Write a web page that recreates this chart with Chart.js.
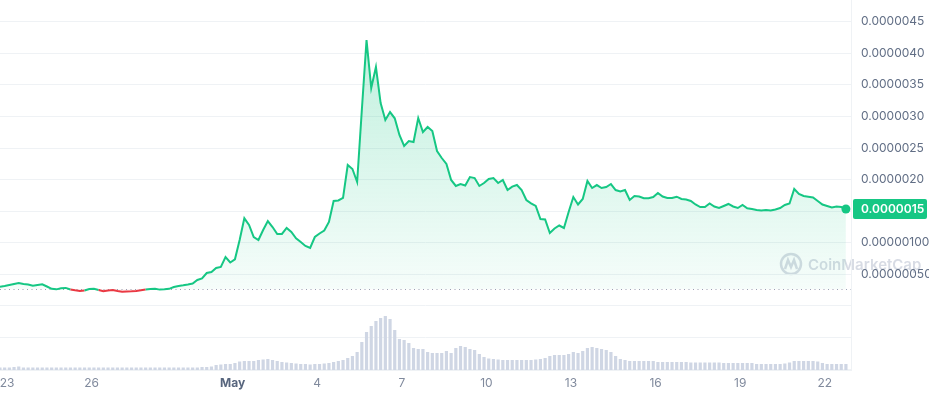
<!DOCTYPE html>
<html>
<head>
<meta charset="utf-8">
<script src="https://cdn.jsdelivr.net/npm/chart.js@4.4.1/dist/chart.umd.min.js"></script>
<style>
  html, body { margin: 0; padding: 0; background: #fff; }
  canvas { display: block; }
</style>
</head>
<body>
<canvas id="priceChart" width="929" height="396"></canvas>
<script>
// price in millionths of a dollar, one reading every 4 hours from Apr 22 18:00
const prices = [
  0.304, 0.315, 0.331, 0.347, 0.363, 0.347, 0.339, 0.320, 0.331, 0.342,
  0.307, 0.270, 0.262, 0.281, 0.285, 0.260, 0.247, 0.236, 0.244, 0.268,
  0.272, 0.252, 0.231, 0.244, 0.252, 0.236, 0.225, 0.228, 0.231, 0.236,
  0.247, 0.260, 0.266, 0.272, 0.258, 0.263, 0.270, 0.299, 0.315, 0.326,
  0.339, 0.355, 0.410, 0.434, 0.521, 0.537, 0.600, 0.616, 0.774, 0.687,
  0.738, 1.044, 1.387, 1.281, 1.091, 1.044, 1.202, 1.344, 1.249, 1.139,
  1.139, 1.234, 1.170, 1.070, 1.012, 0.949, 0.917, 1.091, 1.146, 1.194,
  1.329, 1.661, 1.669, 1.709, 2.231, 2.168, 1.962, 3.102, 4.210, 3.450,
  3.783, 3.212, 2.944, 3.070, 2.971, 2.706, 2.532, 2.611, 2.595, 2.975,
  2.754, 2.833, 2.770, 2.453, 2.342, 2.247, 1.994, 1.899, 1.930, 1.907,
  2.041, 2.025, 1.899, 1.946, 2.010, 2.025, 1.946, 1.994, 1.835, 1.888,
  1.914, 1.835, 1.677, 1.625, 1.582, 1.376, 1.368, 1.154, 1.226, 1.273,
  1.234, 1.487, 1.724, 1.606, 1.693, 1.978, 1.867, 1.914, 1.867, 1.883,
  1.930, 1.835, 1.812, 1.835, 1.677, 1.740, 1.732, 1.704, 1.704, 1.724,
  1.788, 1.732, 1.709, 1.709, 1.729, 1.693, 1.685, 1.661, 1.606, 1.566,
  1.566, 1.622, 1.574, 1.550, 1.582, 1.614, 1.574, 1.550, 1.598, 1.546,
  1.534, 1.519, 1.511, 1.519, 1.511, 1.527, 1.550, 1.598, 1.622, 1.851,
  1.772, 1.740, 1.729, 1.717, 1.661, 1.606, 1.582, 1.558, 1.574, 1.566,
  1.534
]

// traded volume, same 4 hour steps (relative units)
const volumes = [
  2.5, 2.5, 2.5, 3, 3.5, 2.5, 2.5, 2.5, 2.5, 2.5,
  2.5, 2.5, 2.5, 2.5, 2.5, 2.5, 2.5, 2.5, 2.5, 2.5,
  2.5, 2.5, 2.5, 2.5, 2.5, 2.5, 2.5, 2.5, 2.5, 2.5,
  2.5, 2.5, 2.5, 2.5, 2.5, 2.5, 2.5, 2.5, 2.5, 2.5,
  2.5, 2.5, 2.5, 3, 3, 3.5, 5, 5.5, 6, 6,
  7, 8.5, 9, 9, 9, 10, 10.5, 11, 10, 9,
  8, 7.5, 7, 6.5, 6, 6, 5.5, 6, 6, 6.5,
  7, 8, 9, 10, 12, 14, 18, 28, 38, 44,
  49, 52, 54, 51, 40, 31, 30, 27, 22, 21,
  21, 18, 17, 17, 17, 19, 17, 22, 24, 23,
  21, 20, 16, 13, 11.5, 11, 10.5, 10, 10, 10,
  10, 10, 10, 10, 10.5, 11, 12, 14, 15, 15,
  15, 16, 18, 17, 19, 22, 23, 22, 21, 20,
  18, 14, 11, 10, 9, 9, 9, 9, 9, 9,
  8, 8, 8, 8, 8, 8, 8, 7.5, 7.5, 7.5,
  7.5, 7.5, 7.5, 7.5, 7, 7, 7, 7, 7, 7,
  7, 6, 6, 6, 6, 6, 6, 6.5, 7.5, 9,
  9, 9, 9, 9, 8.5, 7, 6, 6, 6, 6,
  6
]

const openPrice = 0.263
const startDay = -0.25 // days after Apr 23 00:00
const stepDay = 1 / 6

const xTickDays = [0, 3, 8, 11, 14, 17, 20, 23, 26, 29]
const xTickLabels = ['23', '26', 'May', '4', '7', '10', '13', '16', '19', '22']

const yTickValues = [-1, -0.5, 0, 0.5, 1, 1.5, 2, 2.5, 3, 3.5, 4, 4.5]
const yTickLabels = ['', '', '', '0.000000500', '0.000001000', '0.0000015', '0.0000020',
  '0.0000025', '0.0000030', '0.0000035', '0.0000040', '0.0000045']

const clrGreen = '#16c784'
const clrRed = '#ea3943'
const clrGrid = '#eff2f5'
const clrText = '#616e85'

Chart.defaults.font.family = 'Inter'
Chart.defaults.font.size = 12

const days = prices.map((p, i) => startDay + i * stepDay)

const fillGradient = (context) => {
  const { ctx, chartArea, scales } = context.chart
  if (!chartArea) return 'rgba(22, 199, 132, 0.1)'
  const bottom = scales.y.getPixelForValue(openPrice)
  const g = ctx.createLinearGradient(0, chartArea.top + 30, 0, bottom)
  g.addColorStop(0, 'rgba(22, 199, 132, 0.28)')
  g.addColorStop(1, 'rgba(22, 199, 132, 0.04)')
  return g
}

const extras = {
  id: 'extras',
  beforeDraw: (chart) => {
    // watermark
    const { ctx } = chart
    ctx.save()
    ctx.globalAlpha = 0.45
    ctx.strokeStyle = '#a6b0c3'
    ctx.lineWidth = 2.5
    ctx.beginPath()
    ctx.arc(791, 264, 10, 0, Math.PI * 2)
    ctx.stroke()
    ctx.beginPath()
    ctx.moveTo(785, 269)
    ctx.lineTo(788, 260)
    ctx.lineTo(791, 267)
    ctx.lineTo(794, 260)
    ctx.lineTo(797, 269)
    ctx.stroke()
    ctx.fillStyle = '#a6b0c3'
    ctx.font = '600 15px Inter'
    ctx.textBaseline = 'middle'
    ctx.fillText('CoinMarketCap', 808, 265)
    ctx.restore()
  },
  beforeDatasetsDraw: (chart) => {
    const { ctx, chartArea, scales } = chart
    const y = Math.round(scales.y.getPixelForValue(openPrice)) + 0.5
    ctx.save()
    ctx.strokeStyle = '#9aa3b5'
    ctx.lineWidth = 1
    ctx.setLineDash([1, 3.5])
    ctx.beginPath()
    ctx.moveTo(chartArea.left, y)
    ctx.lineTo(chartArea.right, y)
    ctx.stroke()
    ctx.restore()
  },
  afterDraw: (chart) => {
    const { ctx, chartArea, scales } = chart
    const last = prices[prices.length - 1]
    const y = scales.y.getPixelForValue(last)
    ctx.save()
    ctx.fillStyle = clrGreen
    ctx.beginPath()
    ctx.roundRect(chartArea.right + 2, y - 10, 74, 20, 2)
    ctx.fill()
    ctx.fillStyle = '#fff'
    ctx.font = '600 12px Inter'
    ctx.textBaseline = 'middle'
    ctx.fillText((last / 1e6).toFixed(7), chartArea.right + 10, y + 0.5)
    ctx.restore()
  },
}

const config = {
  data: {
    labels: days,
    datasets: [
      {
        type: 'line',
        data: prices,
        yAxisID: 'y',
        borderColor: clrGreen,
        borderWidth: 2,
        backgroundColor: fillGradient,
        fill: { value: openPrice, below: 'rgba(234, 57, 67, 0.05)' },
        tension: 0,
        pointRadius: (ctx) => (ctx.dataIndex === prices.length - 1 ? 4.5 : 0),
        pointBackgroundColor: clrGreen,
        pointBorderWidth: 0,
        segment: {
          borderColor: (ctx) =>
            ctx.p0.parsed.y < openPrice && ctx.p1.parsed.y < openPrice ? clrRed : clrGreen,
        },
        order: 1,
      },
      {
        type: 'bar',
        data: volumes,
        yAxisID: 'yv',
        backgroundColor: '#cfd6e4',
        barPercentage: 0.68,
        categoryPercentage: 1,
        order: 2,
      },
    ],
  },
  options: {
    responsive: false,
    animation: false,
    devicePixelRatio: 1,
    layout: { padding: 0, autoPadding: false },
    scales: {
      x: {
        type: 'linear',
        offset: false,
        min: -0.248,
        max: 29.93,
        afterFit: (scale) => {
          scale.height = 26
          scale.paddingLeft = 0
          scale.paddingRight = 0
        },
        afterBuildTicks: (scale) => {
          scale.ticks = xTickDays.map((v) => ({ value: v }))
        },
        grid: { display: false, drawTicks: false, offset: false },
        border: { display: true, color: clrGrid },
        ticks: {
          padding: 6,
          maxRotation: 0,
          autoSkip: false,
          callback: (value, index) => xTickLabels[index],
          color: (ctx) => (ctx.index === 2 ? '#58667e' : '#808a9d'),
          font: (ctx) => ({
            family: 'Inter',
            size: 12,
            weight: ctx.index === 2 ? '700' : '400',
          }),
        },
      },
      y: {
        position: 'right',
        min: -1.015,
        max: 4.844,
        afterFit: (scale) => {
          scale.width = 78
          scale.paddingTop = 0
          scale.paddingBottom = 0
        },
        afterBuildTicks: (scale) => {
          scale.ticks = yTickValues.map((v) => ({ value: v }))
        },
        grid: { color: clrGrid, drawTicks: false },
        border: { display: true, color: clrGrid },
        ticks: {
          padding: 10,
          color: clrText,
          callback: (value, index) => yTickLabels[index],
        },
      },
      yv: {
        display: false,
        min: 0,
        max: 370,
      },
    },
    plugins: {
      legend: { display: false },
      tooltip: { enabled: false },
    },
  },
  plugins: [extras],
}

const myChart = new Chart(document.getElementById('priceChart'), config)
</script>
</body>
</html>
